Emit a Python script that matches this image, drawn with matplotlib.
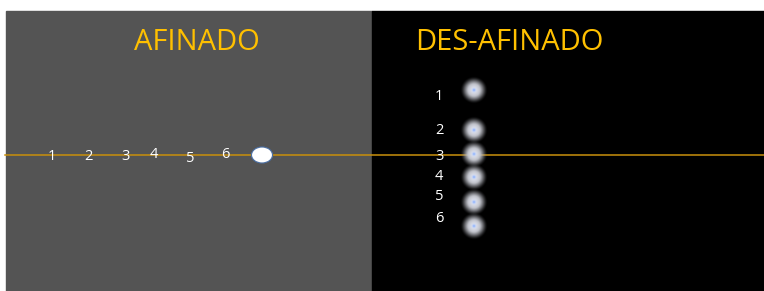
import numpy as np
import matplotlib.pyplot as plt
from matplotlib.patches import Rectangle, Ellipse

# panel titles
titles = ['AFINADO', 'DES-AFINADO']

# left panel: string numbers laid along the tuned line
left_labels = ['1', '2', '3', '4', '5', '6']
left_x = [52, 88, 125, 154, 190, 225]
left_y = [156, 156, 157, 155, 158, 155]

# right panel: detuned strings, labels and blurred dots
right_labels = ['1', '2', '3', '4', '5', '6']
right_label_y = [96, 131, 156, 176, 197, 219]
dot_y = [90, 130, 154, 177, 202, 226]

W, H = 764, 291
fig = plt.figure(figsize=(W / 100, H / 100), dpi=100)
ax = fig.add_axes([0, 0, 1, 1])
ax.set_xlim(0, W)
ax.set_ylim(H, 0)
ax.axis('off')

ax.add_patch(Rectangle((6, 11), 366, 280, color='#545454', zorder=0))
ax.add_patch(Rectangle((372, 11), W - 372, 280, color='black', zorder=0))

ax.axhline(155, xmin=5 / W, xmax=1, color='#C9900C', lw=1.1, zorder=1)

font = ['Open Sans', 'DejaVu Sans']
ax.text(197, 42, titles[0], color='#FFC000', fontsize=21, ha='center', va='center', family=font)
ax.text(509, 42, titles[1], color='#FFC000', fontsize=21, ha='center', va='center', family=font)

for lab, x, y in zip(left_labels, left_x, left_y):
    ax.text(x, y, lab, color='white', fontsize=10.5, ha='center', va='center', family=font, zorder=3)

ax.add_patch(Ellipse((262, 155), 21, 16, facecolor='white', edgecolor='#4A6FA5', lw=0.8, zorder=3))

for lab, y in zip(right_labels, right_label_y):
    ax.text(439, y, lab, color='white', fontsize=10.5, ha='center', va='center', family=font, zorder=3)

# blurred spot image
n = 61
g = np.linspace(-1, 1, n)
xx, yy = np.meshgrid(g, g)
r = np.sqrt(xx ** 2 + yy ** 2)
alpha = np.clip(1.25 - r ** 2 * 1.3, 0, 1) * np.exp(-(r / 0.95) ** 6)
spot = np.zeros((n, n, 4))
shade = np.clip(1.0 - 0.45 * r, 0, 1)
spot[..., 0] = shade * 0.95
spot[..., 1] = shade * 0.96
spot[..., 2] = shade
core = np.exp(-(r / 0.12) ** 2)
spot[..., 0] = spot[..., 0] * (1 - core) + 0.55 * core
spot[..., 1] = spot[..., 1] * (1 - core) + 0.70 * core
spot[..., 2] = spot[..., 2] * (1 - core) + 1.0 * core
spot[..., 3] = alpha

for y in dot_y:
    ax.imshow(spot, extent=(474 - 14, 474 + 14, y + 14, y - 14), zorder=3, interpolation='bilinear')

ax.set_xlim(0, W)
ax.set_ylim(H, 0)
fig.savefig('out.png', dpi=100)
